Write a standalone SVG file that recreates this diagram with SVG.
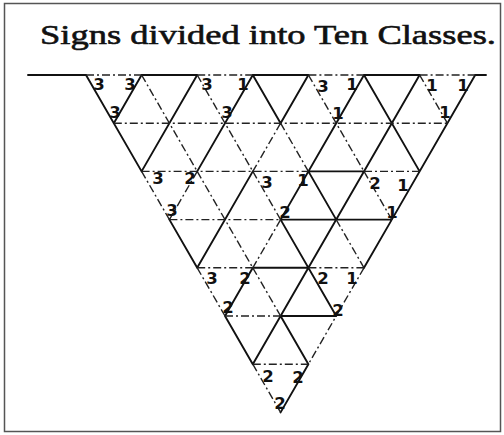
<svg xmlns="http://www.w3.org/2000/svg" width="504" height="435" viewBox="0 0 504 435">
<style>
.h{stroke:#111;stroke-width:1.9;fill:none;stroke-linecap:round}
.l{stroke:#222;stroke-width:1.4;fill:none;stroke-dasharray:8 3 2 3}
.n{font-family:"DejaVu Sans",sans-serif;font-weight:bold;font-size:16.5px;fill:#111;text-anchor:middle}
.t{font-family:"Liberation Serif",serif;font-size:28px;fill:#111;stroke:#111;stroke-width:0.6}
</style>
<rect x="4.5" y="3.5" width="496" height="428" fill="#fff" stroke="#555" stroke-width="1.5"/>
<text class="t" x="40" y="44" textLength="456" lengthAdjust="spacingAndGlyphs">Signs divided into Ten Classes.</text>
<g id="connectors">
<path class="h" d="M28,75H86M141.6,75H197.2M252.8,75H308.4M364,75H419.6M475.2,75H486
M308.4,171.4H364M280.6,219.6H391.8M252.8,267.8H308.4M280.6,316H336.2
M86,75L141.6,171.4M252.8,75L280.6,123.2M364,75L419.6,171.4M308.4,171.4L336.2,219.6
M169.4,219.6L197.2,267.8M280.6,219.6L336.2,316M225,316L252.8,364.2M280.6,316L308.4,364.2
M141.6,75L113.8,123.2M197.2,75L141.6,171.4M252.8,75L197.2,171.4M308.4,75L280.6,123.2
M364,75L336.2,123.2M419.6,75L391.8,123.2M475.2,75L391.8,219.6M336.2,123.2L280.6,219.6
M391.8,123.2L308.4,267.8M391.8,219.6L364,267.8M252.8,171.4L197.2,267.8
M252.8,267.8L225,316M308.4,267.8L252.8,364.2M308.4,364.2L280.6,412.4"/>
<path class="l" d="M86,75H141.6M197.2,75H252.8M308.4,75H364M419.6,75H475.2
M113.8,123.2H447.4M141.6,171.4H308.4M364,171.4H419.6M169.4,219.6H280.6
M197.2,267.8H252.8M308.4,267.8H364M225,316H280.6M252.8,364.2H308.4
M141.6,75L197.2,171.4M197.2,75L252.8,171.4M308.4,75L364,171.4M419.6,75L447.4,123.2
M280.6,123.2L308.4,171.4M141.6,171.4L169.4,219.6M197.2,171.4L252.8,267.8
M252.8,171.4L280.6,219.6M364,171.4L391.8,219.6M336.2,219.6L364,267.8
M197.2,267.8L225,316M252.8,267.8L280.6,316M252.8,364.2L280.6,412.4
M280.6,123.2L252.8,171.4M197.2,171.4L169.4,219.6M280.6,219.6L252.8,267.8
M364,267.8L308.4,364.2"/>
</g>
<g id="class-333"><text class="n" x="99" y="90">3</text><text class="n" x="130" y="90">3</text><text class="n" x="115" y="118">3</text></g>
<g id="class-331"><text class="n" x="207" y="90">3</text><text class="n" x="243" y="90">1</text><text class="n" x="227" y="118">3</text></g>
<g id="class-311"><text class="n" x="323" y="92">3</text><text class="n" x="352" y="90">1</text><text class="n" x="338" y="119">1</text></g>
<g id="class-111"><text class="n" x="432" y="91">1</text><text class="n" x="463" y="91">1</text><text class="n" x="445" y="118">1</text></g>
<g id="class-332"><text class="n" x="158" y="184">3</text><text class="n" x="190" y="184">2</text><text class="n" x="172" y="216">3</text></g>
<g id="class-321"><text class="n" x="267" y="188">3</text><text class="n" x="303" y="186">1</text><text class="n" x="285" y="218">2</text></g>
<g id="class-211"><text class="n" x="375" y="189">2</text><text class="n" x="403" y="191">1</text><text class="n" x="392" y="218">1</text></g>
<g id="class-322"><text class="n" x="212" y="284">3</text><text class="n" x="245" y="284">2</text><text class="n" x="228" y="313">2</text></g>
<g id="class-221"><text class="n" x="323" y="284">2</text><text class="n" x="352" y="284">1</text><text class="n" x="338" y="316">2</text></g>
<g id="class-222"><text class="n" x="268" y="382">2</text><text class="n" x="298" y="383">2</text><text class="n" x="280" y="409">2</text></g>
</svg>
